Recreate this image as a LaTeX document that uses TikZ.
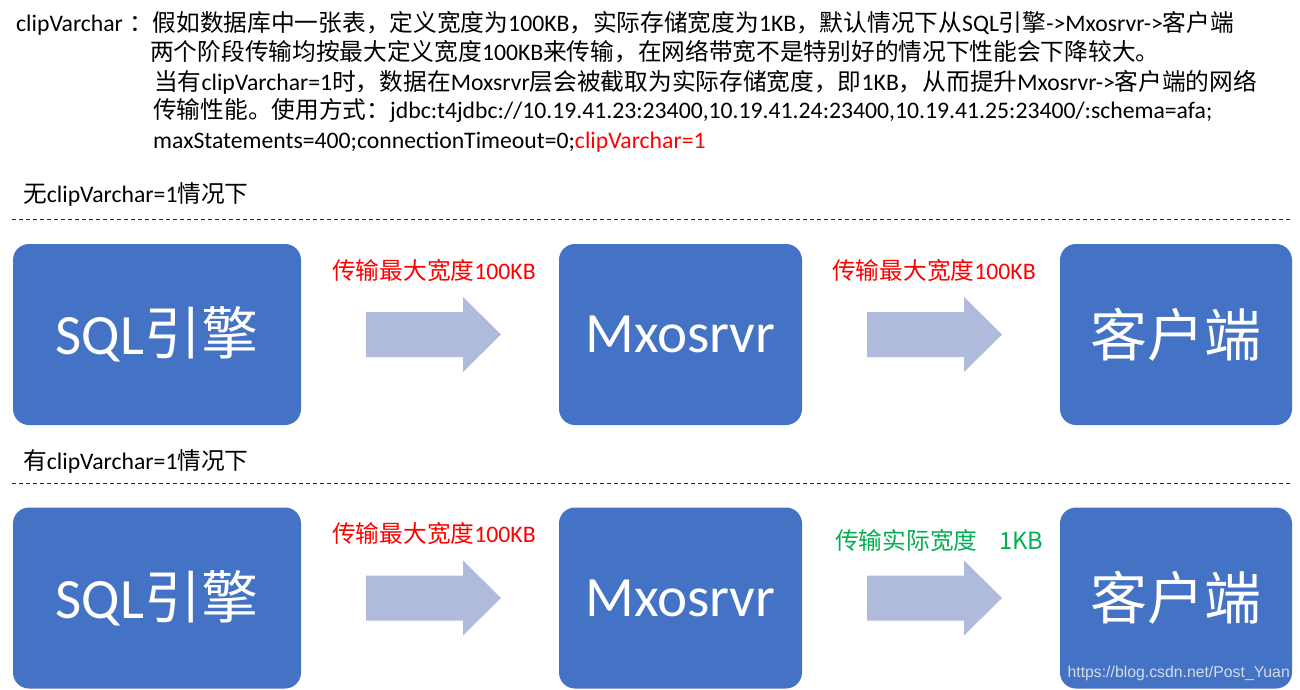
\documentclass[tikz,border=0pt]{standalone}
\usepackage{fontspec}
\setmainfont{Carlito}
\newfontfamily\latinfont{Carlito}
\newfontfamily\cjkfont{Noto Sans CJK SC}
\newfontfamily\urlfont{Liberation Sans}
\usetikzlibrary{calc}
\definecolor{boxblue}{HTML}{4472C4}
\definecolor{flowblue}{RGB}{175,186,221}
\definecolor{cred}{HTML}{FF0000}
\definecolor{cgreen}{HTML}{00B050}
\definecolor{urlgray}{RGB}{212,219,233}

\XeTeXinterchartokenstate=1
\newXeTeXintercharclass\cjkclass
\newcount\cjkcode
\cjkcode="4E00
\loop\XeTeXcharclass\cjkcode=\cjkclass\advance\cjkcode by 1\ifnum\cjkcode<"A000\repeat
\cjkcode="3000
\loop\XeTeXcharclass\cjkcode=\cjkclass\advance\cjkcode by 1\ifnum\cjkcode<"3040\repeat
\cjkcode="FF00
\loop\XeTeXcharclass\cjkcode=\cjkclass\advance\cjkcode by 1\ifnum\cjkcode<"FFF0\repeat
\cjkcode="21
\loop\XeTeXcharclass\cjkcode=0\advance\cjkcode by 1\ifnum\cjkcode<"7F\repeat
\XeTeXinterchartoks 0 \cjkclass={\cjkfont}
\XeTeXinterchartoks 4095 \cjkclass={\cjkfont}
\XeTeXinterchartoks \cjkclass 0={\latinfont}

\begin{document}
\begin{tikzpicture}[x=1pt,y=-1pt,
    txt/.style={anchor=base west, inner sep=0pt, font=\fontsize{23.7}{28}\selectfont},
    tag/.style={txt, text=cred},
    box/.style={fill=boxblue, rounded corners=16pt, inner sep=0pt, minimum height=181pt,
      text=white, font=\fontsize{57}{60}\selectfont},
    sep/.style={draw=black!85, line width=0.9pt, dash pattern=on 4pt off 3pt},
    flow/.style={fill=flowblue}]
  \useasboundingbox (0,0) rectangle (1300,690);

  \node[txt] (intro) at (16,32) {clipVarchar\hspace{6pt}：假如数据库中一张表，定义宽度为100KB，实际存储宽度为1KB，默认情况下从SQL引擎->Mxosrvr->客户端};
  \node[txt] (intro2) at (150,61) {两个阶段传输均按最大定义宽度100KB来传输，在网络带宽不是特别好的情况下性能会下降较大。};
  \node[txt] (intro3) at (154,91) {当有clipVarchar=1时，数据在Moxsrvr层会被截取为实际存储宽度，即1KB，从而提升Mxosrvr->客户端的网络};
  \node[txt] (intro4) at (153,118) {传输性能。使用方式：jdbc:t4jdbc://10.19.41.23:23400,10.19.41.24:23400,10.19.41.25:23400/:schema=afa;};
  \node[txt] (intro5) at (153,148) {maxStatements=400;connectionTimeout=0;{\color{cred}clipVarchar=1}};

  \node[txt] (without) at (23,202) {无clipVarchar=1情况下};
  \draw[sep] (12,219) -- (1292,219);
  \node[box, minimum width=288pt] (sql1) at (157,334.5) {SQL引擎};
  \node[box, minimum width=243pt] (mx1) at (680.5,334.5) {Mxosrvr};
  \node[box, minimum width=232pt] (cli1) at (1176,334.5) {客户端};
  \node[tag] (lbl1) at (332,279) {传输最大宽度100KB};
  \node[tag] (lbl2) at (832,279) {传输最大宽度100KB};

  \node[txt] (with) at (23,469) {有clipVarchar=1情况下};
  \draw[sep] (12,483) -- (1292,483);
  \node[box, minimum width=288pt] (sql2) at (157,598) {SQL引擎};
  \node[box, minimum width=243pt] (mx2) at (680.5,598) {Mxosrvr};
  \node[box, minimum width=232pt] (cli2) at (1176,598) {客户端};
  \node[tag] (lbl3) at (332,542) {传输最大宽度100KB};
  \node[txt, text=cgreen] (lbl4) at (835,549) {传输实际宽度\hspace{22pt}1KB};

  \foreach \a/\b in {sql1/mx1, mx1/cli1, sql2/mx2, mx2/cli2} {
    \path (\a.east) -- (\b.west) coordinate[pos=0.5, xshift=3.5pt] (mid);
    \fill[flow] (mid) ++(-67.5,-22.5) -- ++(97,0) -- ++(0,-15) -- ++(38,37.5)
      -- ++(-38,37.5) -- ++(0,-15) -- ++(-97,0) -- cycle;
  }

  \node[anchor=base east, inner sep=0pt, text=urlgray, font=\urlfont\fontsize{15.8}{18}\selectfont] (mark) at (1290,677) {https://blog.csdn.net/Post\_Yuan};
\end{tikzpicture}
\end{document}
